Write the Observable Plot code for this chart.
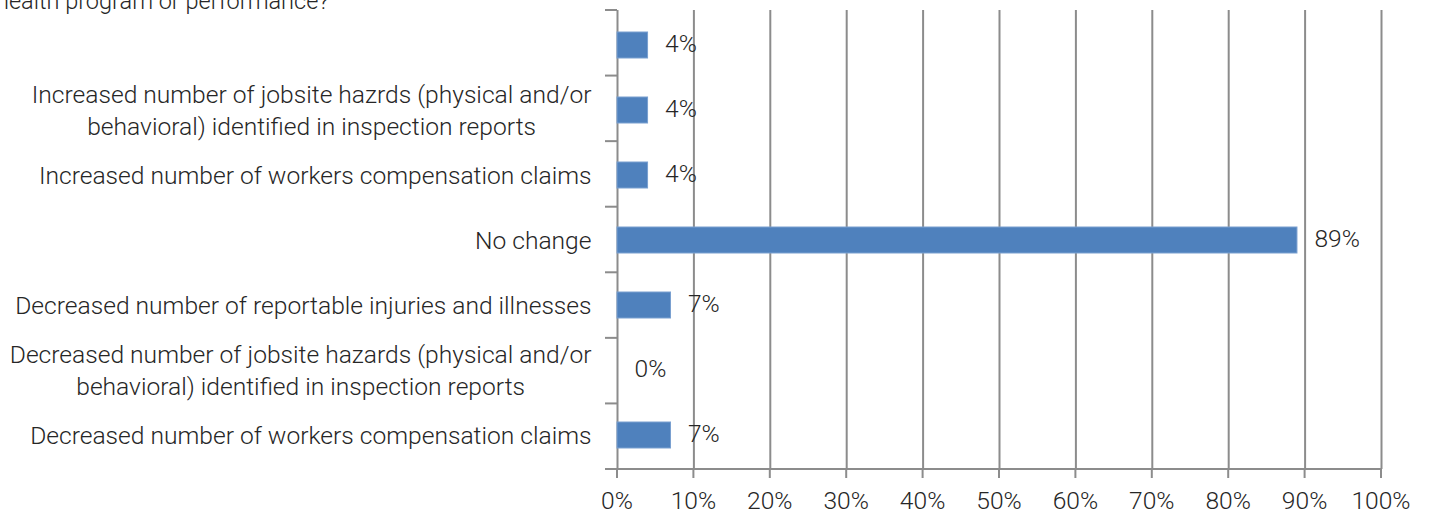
<!DOCTYPE html>
<html>
<head>
<meta charset="utf-8">
<script src="https://cdn.jsdelivr.net/npm/d3@7"></script>
<script src="https://cdn.jsdelivr.net/npm/@observablehq/plot@0.6"></script>
<style>
  html, body { margin: 0; padding: 0; background: #fff; overflow: hidden; }
  #wrap { position: relative; width: 1429px; height: 516px; }
  #title { position: absolute; left: -4px; top: -14px; font: 300 23.5px Roboto, sans-serif; color: #262626; white-space: nowrap; line-height: 30px; }
  #chart { position: absolute; left: 0; top: 0; }
</style>
</head>
<body>
<div id="wrap">
  <div id="chart"></div>
  <div id="title">health program or performance?</div>
</div>
<script>
// Categories, top to bottom (first label is blank in the reference)
const categories = [
  "",
  "Increased number of jobsite hazrds (physical and/or\nbehavioral) identified in inspection reports",
  "Increased number of workers compensation claims",
  "No change",
  "Decreased number of reportable injuries and illnesses",
  "Decreased number of jobsite hazards (physical and/or\nbehavioral) identified in inspection reports",
  "Decreased number of workers compensation claims"
];
const values = [0.04, 0.04, 0.04, 0.89, 0.07, 0.00, 0.07];
const xTicks = [0, 0.1, 0.2, 0.3, 0.4, 0.5, 0.6, 0.7, 0.8, 0.9, 1.0];

const data = categories.map((c, i) => ({key: i, label: c, value: values[i]}));

const FONT = "Roboto, sans-serif";
const FS = 24.6;
const WEIGHT = 300;
const TXT = "#262626";
const GRID = "#8c8c8c";

const canvas = document.createElement("canvas");
const ctx = canvas.getContext("2d");
ctx.font = `${WEIGHT} ${FS}px ${FONT}`;
const textWidth = s => Math.max(...s.split("\n").map(l => ctx.measureText(l).width));

const marginLeft = 617, marginRight = 48, marginTop = 10, marginBottom = 47;
const labelGap = 26; // distance from axis to label right edge
const pct = d3.format(".0%");

const labelMarks = data.filter(d => d.label).map(d => {
  const w = textWidth(d.label);
  return Plot.text([d], {
    y: "key", text: "label", frameAnchor: "left",
    dx: -(labelGap + w / 2), dy: -1.5, textAnchor: "middle", lineHeight: 1.3,
    fill: TXT, fontSize: FS, fontWeight: WEIGHT
  });
});

const chart = Plot.plot({
  width: 1429,
  height: 516,
  marginLeft, marginRight, marginTop, marginBottom,
  style: {fontFamily: FONT, fontSize: FS + "px", fontWeight: WEIGHT, color: TXT, background: "#fff"},
  x: {domain: [0, 1], axis: null},
  y: {domain: data.map(d => d.key), paddingInner: 0.6, paddingOuter: 0.3, axis: null},
  marks: [
    Plot.ruleX(xTicks, {stroke: GRID, strokeWidth: 2}),
    Plot.barX(data, {x: "value", y: "key", fill: "#4f81bd", stroke: "#7aa0d0", strokeWidth: 1}),
    Plot.text(data, {x: "value", y: "key", text: d => pct(d.value), dx: 17, dy: -1, textAnchor: "start", fill: TXT, fontSize: FS, fontWeight: WEIGHT}),
    ...labelMarks
  ]
});

// Axis lines, ticks and tick labels placed through the scales
const xs = chart.scale("x");
const svg = d3.select(chart);
const g = svg.append("g").attr("stroke", GRID).attr("stroke-width", 2);
const bottomY = 516 - marginBottom;
const topY = marginTop;
const x0 = xs.apply(0), x1 = xs.apply(1);
g.append("line").attr("x1", x0 - 12).attr("x2", x1 + 1).attr("y1", bottomY).attr("y2", bottomY);
xTicks.forEach(t => g.append("line").attr("x1", xs.apply(t)).attr("x2", xs.apply(t)).attr("y1", bottomY).attr("y2", bottomY + 9));
for (let i = 0; i <= data.length; i++) {
  const yy = topY + (bottomY - topY) * i / data.length;
  g.append("line").attr("x1", x0 - 12).attr("x2", x0).attr("y1", yy).attr("y2", yy);
}
const tl = svg.append("g").attr("fill", TXT).attr("font-size", FS).attr("font-weight", WEIGHT).attr("text-anchor", "middle");
xTicks.forEach(t => tl.append("text").attr("x", xs.apply(t)).attr("y", 500).attr("dy", "0.35em").text(pct(t)));

document.getElementById("chart").appendChild(chart);
</script>
</body>
</html>
